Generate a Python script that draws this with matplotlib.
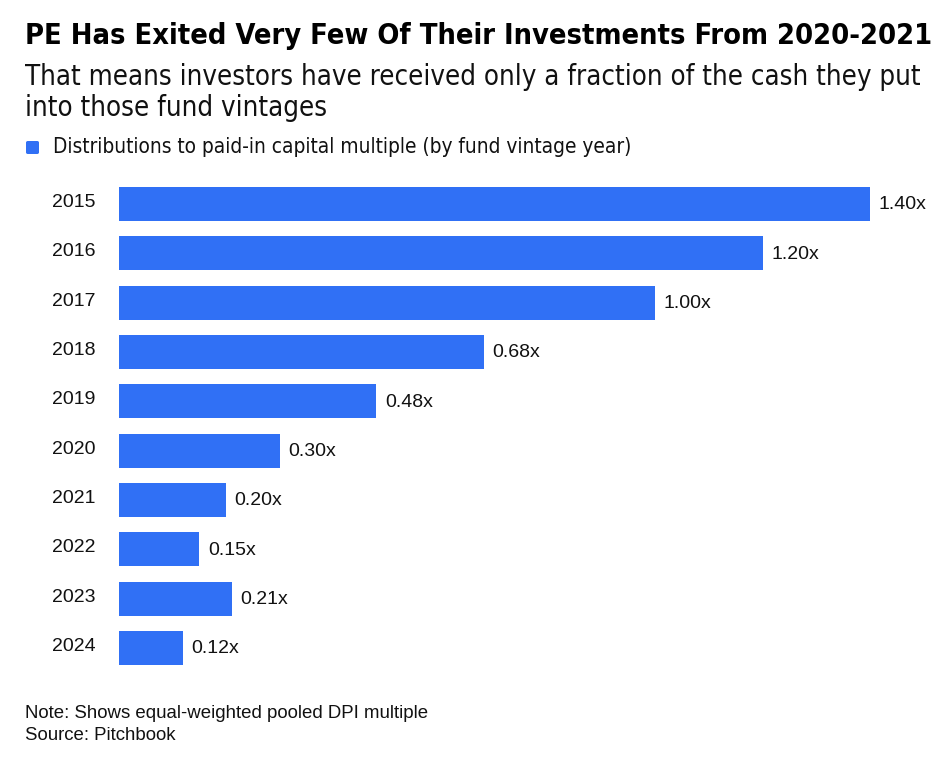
import matplotlib
matplotlib.use("Agg")
import matplotlib.pyplot as plt
import matplotlib.transforms as mtransforms
from matplotlib import font_manager

# dane wykresu
years = ["2015", "2016", "2017", "2018", "2019", "2020", "2021", "2022", "2023", "2024"]
dpi_values = [1.40, 1.20, 1.00, 0.68, 0.48, 0.30, 0.20, 0.15, 0.21, 0.12]
value_labels = ["1.40x", "1.20x", "1.00x", "0.68x", "0.48x", "0.30x", "0.20x", "0.15x", "0.21x", "0.12x"]

title = "PE Has Exited Very Few Of Their Investments From 2020-2021"
subtitle_1 = "That means investors have received only a fraction of the cash they put"
subtitle_2 = "into those fund vintages"
legend_label = "Distributions to paid-in capital multiple (by fund vintage year)"
note = "Note: Shows equal-weighted pooled DPI multiple"
source = "Source: Pitchbook"

bar_color = "#3070F5"
regular = ["Liberation Sans", "DejaVu Sans"]

# czy jest waska wersja DejaVu? jesli nie - Roboto
cond_file = font_manager.findfont(font_manager.FontProperties(family="DejaVu Sans", stretch="condensed"))
if "Condensed" in cond_file:
    narrow = dict(family=["DejaVu Sans"], stretch="condensed")
else:
    narrow = dict(family=["Roboto", "DejaVu Sans"])

fig = plt.figure(figsize=(9.5, 7.7), dpi=100)
W, H = 950, 770
ax = fig.add_axes([119 / W, 1 - 665 / H, (870 - 119) / W, (665 - 187) / H])

bar_h = 0.69
pos = list(range(len(years)))
ax.barh(pos, dpi_values, height=bar_h, color=bar_color)
ax.set_xlim(0, 1.40)
ax.set_ylim(len(years) - 1 + bar_h / 2, -bar_h / 2)

for p, v, lab in zip(pos, dpi_values, value_labels):
    ax.annotate(lab, (v, p), xytext=(6, -0.5), textcoords="offset points",
                va="center", ha="left", fontsize=14, family=regular,
                color="#111111", annotation_clip=False)

ax.set_yticks(pos)
ax.set_yticklabels(years, family=regular, fontsize=14, color="#111111")
ax.tick_params(axis="y", length=0, pad=17)
# lata troche wyzej niz srodek slupka, jak w oryginale
shift = mtransforms.ScaledTranslation(0, 2.5 / 72, fig.dpi_scale_trans)
for lbl in ax.get_yticklabels():
    lbl.set_transform(lbl.get_transform() + shift)
ax.set_xticks([])
for s in ax.spines.values():
    s.set_visible(False)

renderer = fig.canvas.get_renderer()


def fit_text(x, y, s, width_px, size, **kw):
    # dopasowanie rozmiaru czcionki do szerokosci z oryginalu
    t = fig.text(x / W, 1 - y / H, s, fontsize=size, va="center", ha="left", **kw)
    w = t.get_window_extent(renderer).width
    t.set_fontsize(size * width_px / w)
    return t


fit_text(25, 36, title, 905, 22, fontweight="bold", color="#000000", **narrow)
t_sub = fit_text(25, 77, subtitle_1, 893, 20, color="#111111", **narrow)
fig.text(25 / W, 1 - 108 / H, subtitle_2, va="center", ha="left", color="#111111",
         fontsize=t_sub.get_fontsize(), **narrow)

fit_text(53, 147, legend_label, 584, 14, color="#111111", **narrow)
fig.patches.append(matplotlib.patches.FancyBboxPatch(
    (26 / W, 1 - 154 / H), 13 / W, 13 / H, boxstyle="round,pad=0,rounding_size=0.002",
    transform=fig.transFigure, facecolor=bar_color, edgecolor="none", figure=fig))

fit_text(25, 713, note, 403, 13, family=regular, color="#111111")
fit_text(25, 735, source, 151, 13, family=regular, color="#111111")

fig.savefig("out.png", dpi=100, facecolor="white")
